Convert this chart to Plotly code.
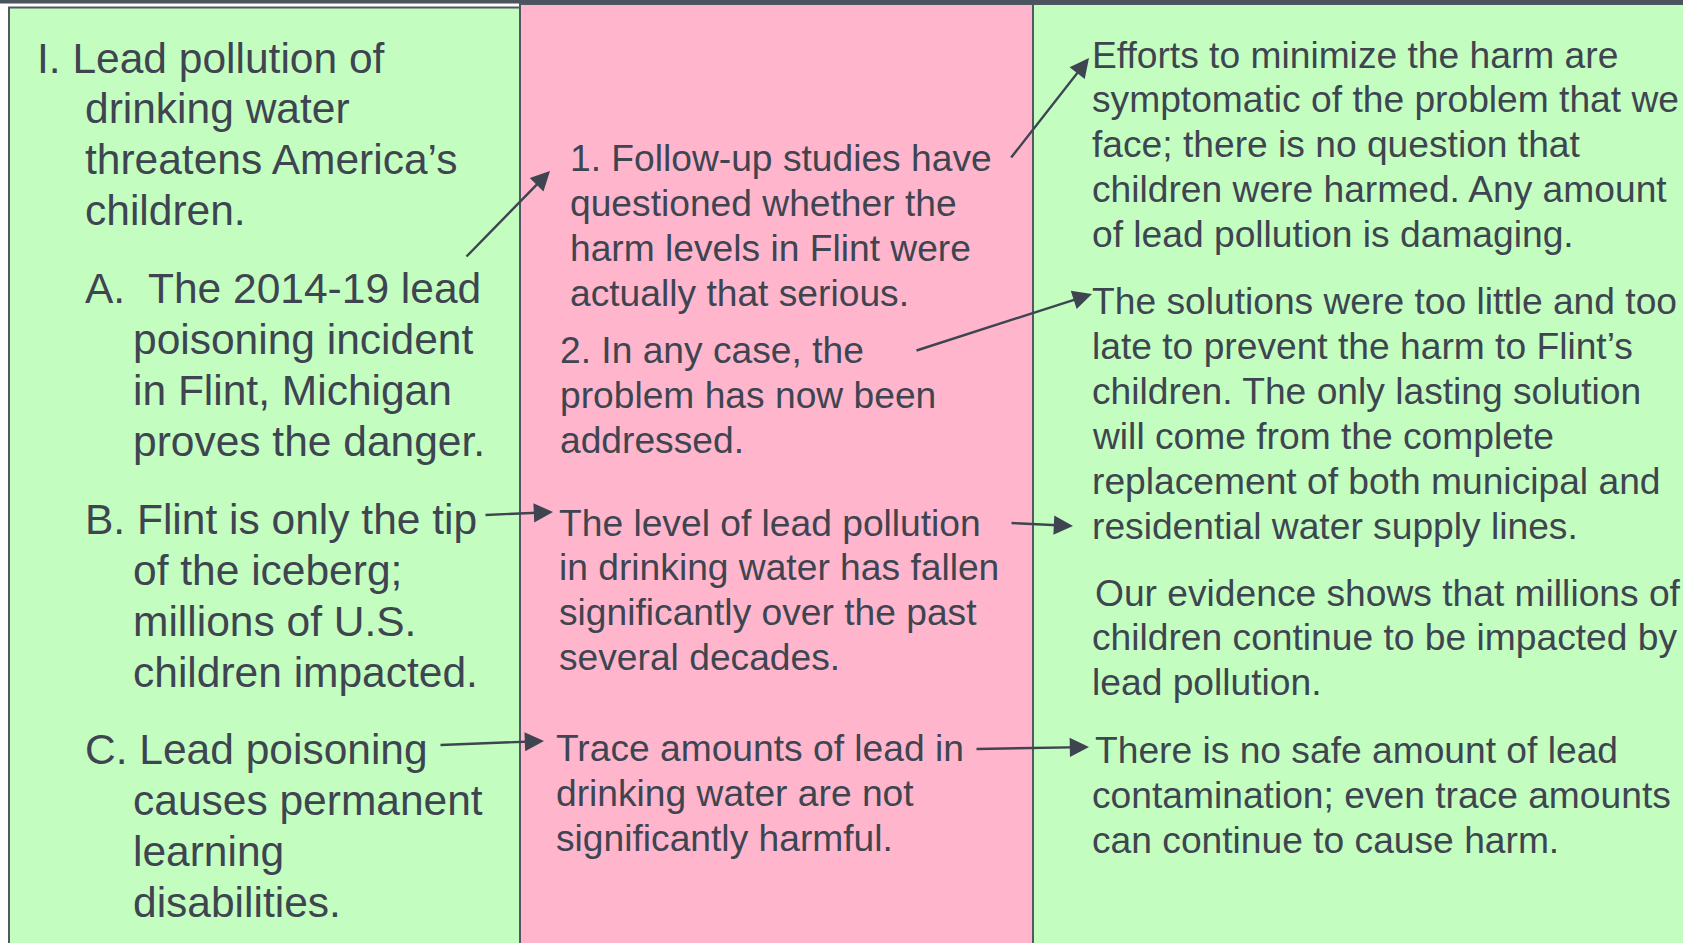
import plotly.graph_objects as go

W, H = 1683, 943

# ---- content ----
col_left_lines = [
    "I. Lead pollution of", "drinking water", "threatens America’s", "children.",
]
col_left_A = ["A.  The 2014-19 lead", "poisoning incident", "in Flint, Michigan", "proves the danger."]
col_left_B = ["B. Flint is only the tip", "of the iceberg;", "millions of U.S.", "children impacted."]
col_left_C = ["C. Lead poisoning", "causes permanent", "learning", "disabilities."]

mid_1 = ["1. Follow-up studies have", "questioned whether the", "harm levels in Flint were", "actually that serious."]
mid_2 = ["2. In any case, the", "problem has now been", "addressed."]
mid_3 = ["The level of lead pollution", "in drinking water has fallen", "significantly over the past", "several decades."]
mid_4 = ["Trace amounts of lead in", "drinking water are not", "significantly harmful."]

right_1 = ["Efforts to minimize the harm are", "symptomatic of the problem that we",
           "face; there is no question that", "children were harmed. Any amount",
           "of lead pollution is damaging."]
right_2 = ["The solutions were too little and too", "late to prevent the harm to Flint’s",
           "children. The only lasting solution", "will come from the complete",
           "replacement of both municipal and", "residential water supply lines."]
right_3 = ["Our evidence shows that millions of", "children continue to be impacted by", "lead pollution."]
right_4 = ["There is no safe amount of lead", "contamination; even trace amounts", "can continue to cause harm."]

# ---- styles / layout ----
GREEN = "#c4fdc0"
PINK = "#ffb6cc"
BORDER = "#515861"
TEXT = "#3e4550"
FONT = "Liberation Sans, Arial, sans-serif"

fig = go.Figure()

shapes = [
    dict(type="rect", x0=9, x1=520, y0=7.5, y1=960, fillcolor=GREEN, line=dict(color=BORDER, width=2)),
    dict(type="rect", x0=520, x1=1033, y0=4, y1=960, fillcolor=PINK, line=dict(color=BORDER, width=2)),
    dict(type="rect", x0=1033, x1=1700, y0=4, y1=960, fillcolor=GREEN, line=dict(color=BORDER, width=2)),
    dict(type="rect", x0=-5, x1=1700, y0=-5, y1=3.5, fillcolor="#4b545e", line=dict(width=0)),
]

annotations = []


def block(lines, x, y0, dy, size, first_x=None):
    for i, t in enumerate(lines):
        xx = first_x if (i == 0 and first_x is not None) else x
        annotations.append(dict(
            x=xx, y=y0 + i * dy, xref="x", yref="y", text=t, showarrow=False,
            xanchor="left", yanchor="middle", align="left",
            font=dict(family=FONT, size=size, color=TEXT), borderpad=0,
        ))


LS = 42.5
MS = 37.2
block(col_left_lines, 84, 58, 50.8, LS, first_x=36)
block(col_left_A, 132, 288, 51, LS, first_x=84)
block(col_left_B, 132, 519, 51, LS, first_x=84)
block(col_left_C, 132, 749, 51, LS, first_x=84)

block(mid_1, 569, 157.5, 45.1, MS)
block(mid_2, 559, 349.5, 45.1, MS)
block(mid_3, 558, 522.5, 44.8, MS)
block(mid_4, 555, 747.5, 45.1, MS)

block(right_1, 1091, 54.5, 44.8, MS)
block(right_2, 1091, 300.5, 45.1, MS)
block(right_3, 1091, 592.5, 44.6, MS, first_x=1094)
block(right_4, 1091, 749.5, 45.1, MS, first_x=1094)

# arrows: (tail_x, tail_y, head_x, head_y)
arrows = [
    (465, 258, 550, 171),
    (1010, 159, 1089, 58),
    (915, 351, 1092, 294),
    (484, 515, 553, 512),
    (1010, 523, 1073, 526),
    (439, 745, 544, 741),
    (975, 749, 1089, 747),
]
for tx, ty, hx, hy in arrows:
    annotations.append(dict(
        x=hx, y=hy, ax=tx, ay=ty, xref="x", yref="y", axref="x", ayref="y",
        text="", showarrow=True, arrowhead=2, arrowsize=1.6, arrowwidth=2.4,
        arrowcolor=TEXT, standoff=0, startstandoff=0,
    ))

fig.update_layout(
    width=W, height=H, margin=dict(l=0, r=0, t=0, b=0),
    paper_bgcolor="white", plot_bgcolor="white",
    xaxis=dict(range=[0, W], visible=False, fixedrange=True),
    yaxis=dict(range=[H, 0], visible=False, fixedrange=True),
    shapes=shapes, annotations=annotations, showlegend=False,
)

fig.write_html(
    "out.html",
    config={"displayModeBar": False},
    post_script="document.body.style.margin='0px';document.body.style.overflow='hidden';",
)
